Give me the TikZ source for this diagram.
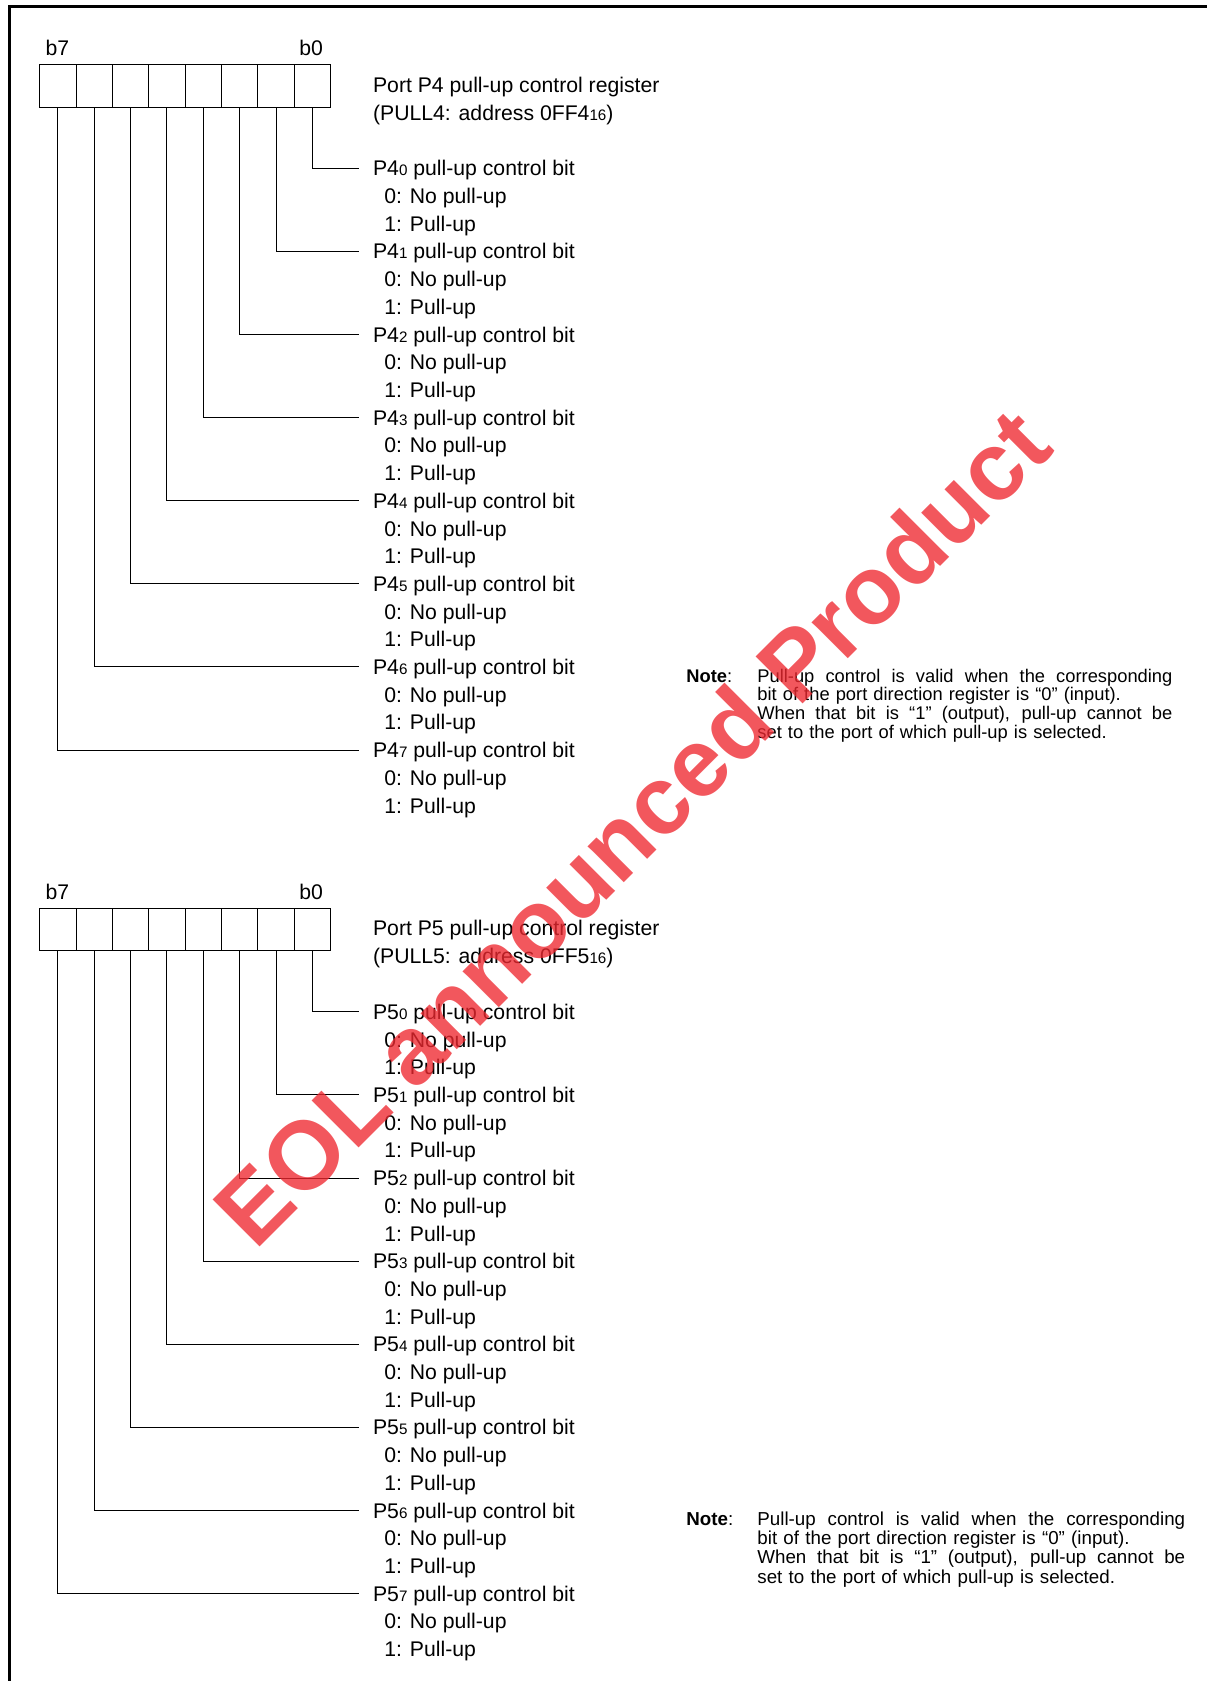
\documentclass[tikz,border=0pt]{standalone}
\usepackage{fontspec}
\setmainfont{Liberation Sans}
\newcommand\smalldig[1]{{\fontsize{7.6}{8}\selectfont #1}}
\newcommand\lblfont{\fontsize{10.6}{12}\selectfont}
\newcommand\fullline[2]{\makebox[#1][s]{\spaceskip=0pt\xspaceskip=0pt\relax #2}}
\definecolor{wmred}{RGB}{238,40,48}
\begin{document}
\begin{tikzpicture}[x=0.5pt,y=-0.5pt,
  lbl/.style={font=\lblfont, anchor=west, inner xsep=0pt, inner ysep=0pt, text height=7.59pt, text depth=0pt},
  bitlbl/.style={lbl, inner xsep=6.85pt},
  cell/.style={draw, line width=0.5pt, minimum width=18.17pt, minimum height=21.2pt, inner sep=0pt, anchor=north west},
  leader/.style={line width=0.5pt},
  frame/.style={line width=1.5pt},
  wmark/.style={rotate=45, anchor=base, inner sep=0pt, font=\fontsize{48.3}{52}\selectfont\bfseries, text=wmred, text opacity=0.78},
  notehead/.style={anchor=base west, inner sep=0pt},
  notebody/.style={anchor=base west, inner sep=0pt, align=left}
]
\useasboundingbox (0,0) rectangle (1207,1681);
% frame
\coordinate (fbl) at (9.5,1681);
\coordinate (ftl) at (9.5,6.5);
\coordinate (ftr) at (1207,6.5);
\draw[frame] (fbl) -- (ftl) -- (ftr);
% registers
\foreach \reg/\port/\yoff in {1/4/0, 2/5/843.5} {
  \foreach \cc in {0,...,7} {
    \node[cell] (r\reg-c\cc) at ({39.3+\cc*36.34}, {64.3+\yoff}) {};
  }
  \node[lbl, anchor=center] (r\reg-b7) at (57.5, 48.3+\yoff) {b7};
  \node[lbl, anchor=center] (r\reg-b0) at (311.2, 48.3+\yoff) {b0};
  \node[lbl] (r\reg-t1) at (372.7, 84.8+\yoff) {Port P\port\ pull-up control register};
  \node[lbl] (r\reg-t2) at (372.7, 112.5+\yoff) {(PULL\port: address 0FF\port\smalldig{16})};
  \foreach \bk in {0,...,7} {
    \pgfmathsetmacro\yk{168.3+\bk*83.1+\yoff}
    \pgfmathtruncatemacro\ci{7-\bk}
    \node[bitlbl] (r\reg-l\bk) at (359, \yk) {P\port\smalldig{\bk} pull-up control bit};
    \node[lbl] (r\reg-z\bk) at (384, \yk+27.72) {0: No pull-up};
    \node[lbl] (r\reg-o\bk) at (384, \yk+55.44) {1: Pull-up};
    \draw[leader] (r\reg-c\ci.south) |- (r\reg-l\bk.west);
  }
}
% notes
\node[notehead, font=\fontsize{9.16}{9.4}\selectfont] (n1h) at (686,682) {\textbf{Note}:};
\node[notebody, text width=207.5pt, font=\fontsize{9.16}{9.4}\selectfont] (n1b) at (757,682)
  {\fullline{207.5pt}{Pull-up control is valid when the corresponding}\\
   bit of the port direction register is “0” (input).\\
   \fullline{207.5pt}{When that bit is “1” (output), pull-up cannot be}\\
   set to the port of which pull-up is selected.};
\node[notehead, font=\fontsize{9.38}{9.6}\selectfont] (n2h) at (686,1525.5) {\textbf{Note}:};
\node[notebody, text width=213.9pt, font=\fontsize{9.38}{9.6}\selectfont] (n2b) at (757,1525.5)
  {\fullline{213.9pt}{Pull-up control is valid when the corresponding}\\
   bit of the port direction register is “0” (input).\\
   \fullline{213.9pt}{When that bit is “1” (output), pull-up cannot be}\\
   set to the port of which pull-up is selected.};
% watermark (on top, translucent)
\node[wmark] (wm) at (656,851) {EOL announced Product};
\end{tikzpicture}
\end{document}
